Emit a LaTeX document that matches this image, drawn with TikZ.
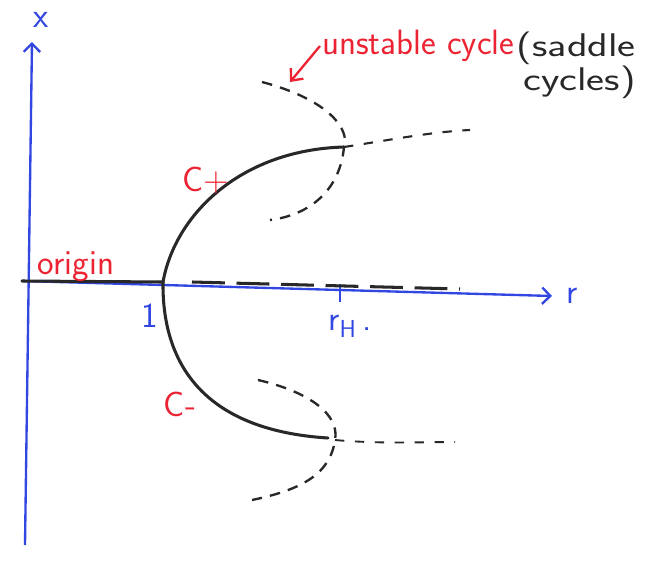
\documentclass[tikz,border=0pt]{standalone}
\usepackage{tikz}
\usepackage{xcolor}
\usetikzlibrary{arrows.meta,calc}
\definecolor{axiscolor}{RGB}{50,70,225}
\definecolor{labelcolor}{RGB}{235,35,50}
\definecolor{penblack}{RGB}{40,40,40}

\begin{document}
\begin{tikzpicture}[
    x=0.03cm, y=-0.03cm,
    axis/.style={draw=axiscolor, line width=2pt, -{Straight Barb[length=7pt,width=14pt,line width=2pt]}},
    branch/.style={draw=penblack, line width=2.6pt, line cap=round},
    unstable/.style={draw=penblack, line width=2pt, dash pattern=on 9pt off 7pt},
    redtext/.style={text=labelcolor, font=\sffamily\fontsize{30}{32}\selectfont, inner sep=0pt},
    bluetext/.style={text=axiscolor, font=\sffamily\fontsize{30}{32}\selectfont, inner sep=0pt},
    blacktext/.style={text=penblack, font=\sffamily\fontsize{28}{24}\selectfont, inner sep=0pt, align=right}
]
\useasboundingbox (0,0) rectangle (670,561);

% Axes
\coordinate (xbot) at (25,545);
\coordinate (xtop) at (32,42);
\coordinate (rleft) at (22,281);
\coordinate (rright) at (552,296);
\draw[axis] (xbot) -- (xtop);
\draw[axis] (rleft) -- (rright);
\node[bluetext] (xlab) at (41,20) {x};
\node[bluetext] (rlab) at (572,296) {r};

% Points on the r axis
\coordinate (one) at (163,282);
\coordinate (hopf) at (340,292);
\draw[axiscolor, line width=2pt] ($(hopf)+(0,-8)$) -- ($(hopf)+(0,10)$);
\node[bluetext] (onelab) at (150,316) {1};
\node[bluetext] (hopflab) at (350,326) {r\textsubscript{H}\,.};

% Origin branch
\draw[branch] (rleft) -- (one);
\node[redtext] (originlab) at (76,267) {origin};
\coordinate (dashstart) at (192,282);
\coordinate (dashend) at (460,289);
\draw[unstable, line width=2.6pt, dash pattern=on 28pt off 10pt] (dashstart) -- (dashend);

% Stable cycles
\coordinate (topsaddle) at (344,147);
\coordinate (botsaddle) at (335,440);
\draw[branch] (one) .. controls (175,215) and (240,150) .. (topsaddle);
\draw[branch] (one) .. controls (162,360) and (200,430) .. (328,438);
\node[redtext] (cplus) at (206,180) {C+};
\node[redtext] (cminus) at (180,404) {C-};

% Saddle cycles
\draw[unstable] (262,82) .. controls (330,100) and (350,130) .. (topsaddle)
               .. controls (340,190) and (310,215) .. (270,220);
\draw[unstable, line width=1.8pt, dash pattern=on 8pt off 9pt] (topsaddle) .. controls (390,140) and (430,132) .. (470,130);
\draw[unstable] (258,380) .. controls (310,392) and (340,415) .. (botsaddle)
               .. controls (330,475) and (300,490) .. (252,500);
\draw[unstable, line width=1.6pt, dash pattern=on 8pt off 9pt] (botsaddle) .. controls (380,444) and (420,442) .. (455,442);

% Annotation
\node[redtext, anchor=west] (unstlab) at (322,46) {unstable cycle};
\node[blacktext, anchor=north west] (saddlelab) at ($(unstlab.north east)+(2,2)$) {\scalebox{1.3}[1]{(saddle}\\\scalebox{1.3}[1]{cycles)}};
\coordinate (arrowtip) at (290,82);
\draw[labelcolor, line width=2pt, -{Straight Barb[length=8pt,width=14pt,line width=2pt]}] ($(unstlab.west)+(-2,0)$) -- (arrowtip);

\end{tikzpicture}
\end{document}
